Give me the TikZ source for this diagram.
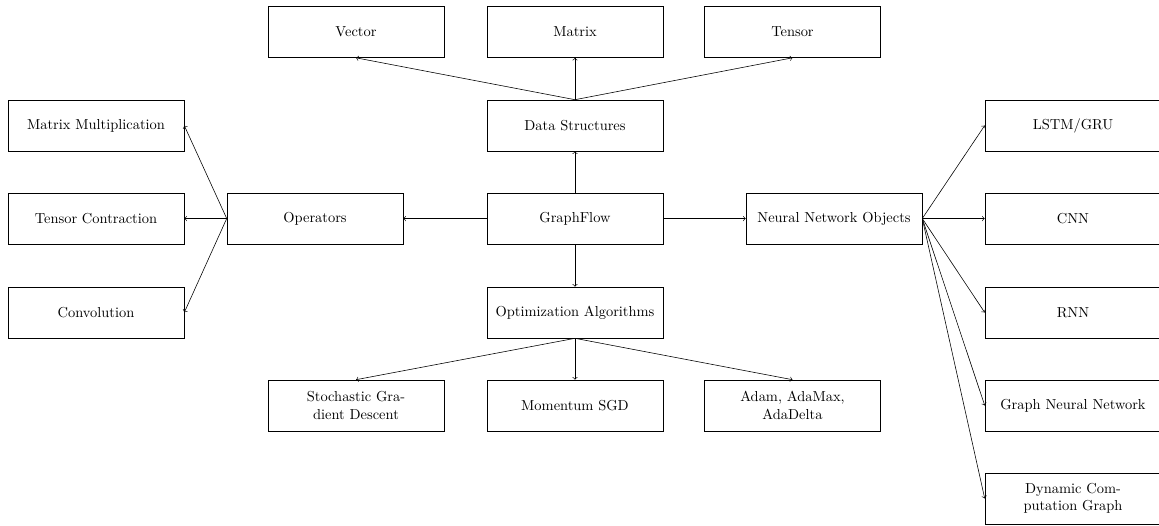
\documentclass[tikz,border=0pt]{standalone}
\begin{document}
\begin{tikzpicture}[x=0.6916pt, y=-0.6916pt,
  box/.style={draw, minimum width=121.7pt, minimum height=35.3pt, align=center, inner sep=2pt},
  link/.style={->}]
\useasboundingbox (0,0) rectangle (1159,525);

% root
\node[box] (gf) at (575,218.5) {GraphFlow};

% data structures branch
\node[box] (ds)  at (575,125.5) {Data Structures};
\node[box] (vec) at (356,32)    {Vector};
\node[box] (mat) at (575,32)    {Matrix};
\node[box] (ten) at (792.5,32)  {Tensor};

% operators branch
\node[box] (ops)  at (315,218.5) {Operators};
\node[box] (mm)   at (96,125.5)  {Matrix Multiplication};
\node[box] (tc)   at (96,218.5)  {Tensor Contraction};
\node[box] (conv) at (96,312.5)  {Convolution};

% optimization branch
\node[box] (opt)  at (575,312.5)   {Optimization Algorithms};
\node[box] (sgd)  at (356,405.5)   {Stochastic Gra-\\dient Descent};
\node[box] (mom)  at (575,405.5)   {Momentum SGD};
\node[box] (adam) at (792.5,405.5) {Adam, AdaMax,\\AdaDelta};

% neural network branch
\node[box] (nno)  at (834,218.5)  {Neural Network Objects};
\node[box] (lstm) at (1073,125.5) {LSTM/GRU};
\node[box] (cnn)  at (1073,218.5) {CNN};
\node[box] (rnn)  at (1073,312.5) {RNN};
\node[box] (gnn)  at (1073,405.5) {Graph Neural Network};
\node[box] (dcg)  at (1073,498.5) {Dynamic Com-\\putation Graph};

% connectors
\draw[link] (gf.north) -- (ds.south);
\draw[link] (gf.west)  -- (ops.east);
\draw[link] (gf.east)  -- (nno.west);
\draw[link] (gf.south) -- (opt.north);

\foreach \c in {vec,mat,ten} \draw[link] (ds.north) -- (\c.south);
\foreach \c in {mm,tc,conv} \draw[link] (ops.west) -- (\c.east);
\foreach \c in {sgd,mom,adam} \draw[link] (opt.south) -- (\c.north);
\foreach \c in {lstm,cnn,rnn,gnn,dcg} \draw[link] (nno.east) -- (\c.west);
\end{tikzpicture}
\end{document}
